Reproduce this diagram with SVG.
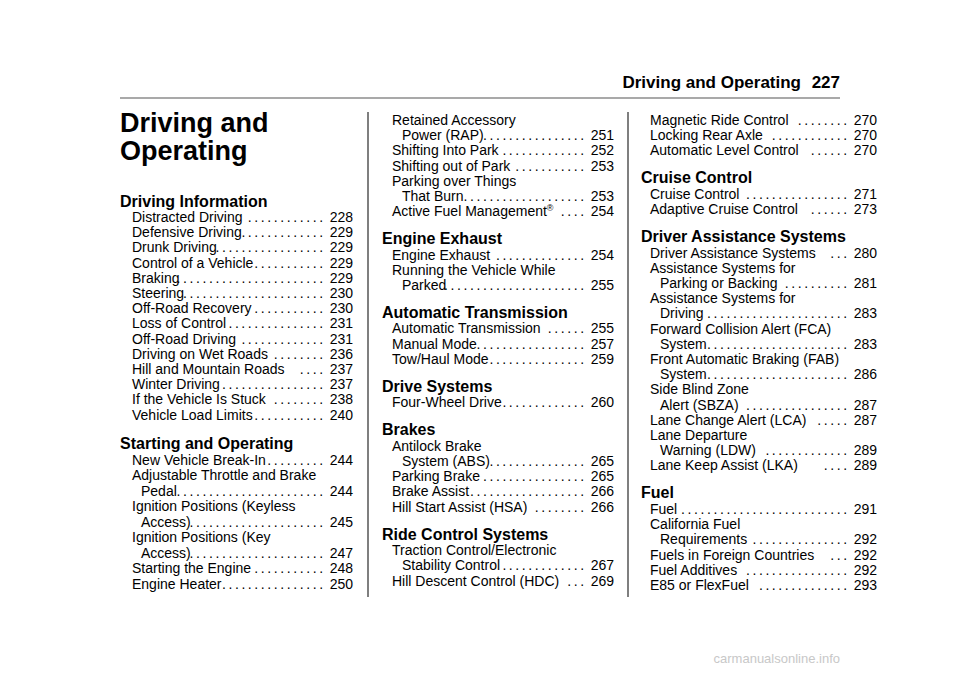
<svg xmlns="http://www.w3.org/2000/svg" width="960" height="678" viewBox="0 0 960 678">
<style>
text{font-family:"Liberation Sans",Arial,sans-serif;fill:#000}
.i{font-size:14px}
.h{font-size:16px;font-weight:bold}
.n{font-size:14px;text-anchor:end}
.d{letter-spacing:2.6px}
.t{font-size:27px;font-weight:bold}
.hd{font-size:17px;font-weight:bold}
</style>
<rect width="960" height="678" fill="#fff"/>
<g id="header">
<text class="hd" x="801" y="88" text-anchor="end">Driving and Operating</text>
<text class="hd" x="840" y="88" text-anchor="end">227</text>
<line x1="120" y1="98" x2="840" y2="98" stroke="#555" stroke-width="1.2"/>
</g>
<g id="title">
<text class="t" x="120" y="132">Driving and</text>
<text class="t" x="120" y="160">Operating</text>
</g>
<g id="separators" stroke="#555" stroke-width="1.5">
<line x1="368" y1="112" x2="368" y2="597"/>
<line x1="628" y1="112" x2="628" y2="597"/>
</g>
<g id="col1">
<text class="h" x="120" y="207">Driving Information</text>
<text class="i" x="132" y="222">Distracted Driving</text><text class="n" x="353" y="222"><tspan class="d">............</tspan> 228</text>
<text class="i" x="132" y="237.2">Defensive Driving</text><text class="n" x="353" y="237.2"><tspan class="d">.............</tspan> 229</text>
<text class="i" x="132" y="252.4">Drunk Driving</text><text class="n" x="353" y="252.4"><tspan class="d">.................</tspan> 229</text>
<text class="i" x="132" y="267.6">Control of a Vehicle</text><text class="n" x="353" y="267.6"><tspan class="d">...........</tspan> 229</text>
<text class="i" x="132" y="282.8">Braking</text><text class="n" x="353" y="282.8"><tspan class="d">.......................</tspan> 229</text>
<text class="i" x="132" y="298">Steering</text><text class="n" x="353" y="298"><tspan class="d">......................</tspan> 230</text>
<text class="i" x="132" y="313.2">Off-Road Recovery</text><text class="n" x="353" y="313.2"><tspan class="d">...........</tspan> 230</text>
<text class="i" x="132" y="328.4">Loss of Control</text><text class="n" x="353" y="328.4"><tspan class="d">...............</tspan> 231</text>
<text class="i" x="132" y="343.6">Off-Road Driving</text><text class="n" x="353" y="343.6"><tspan class="d">.............</tspan> 231</text>
<text class="i" x="132" y="358.8">Driving on Wet Roads</text><text class="n" x="353" y="358.8"><tspan class="d">........</tspan> 236</text>
<text class="i" x="132" y="374">Hill and Mountain Roads</text><text class="n" x="353" y="374"><tspan class="d">....</tspan>   237</text>
<text class="i" x="132" y="389.2">Winter Driving</text><text class="n" x="353" y="389.2"><tspan class="d">................</tspan> 237</text>
<text class="i" x="132" y="404.4">If the Vehicle Is Stuck</text><text class="n" x="353" y="404.4"><tspan class="d">........</tspan> 238</text>
<text class="i" x="132" y="419.6">Vehicle Load Limits</text><text class="n" x="353" y="419.6"><tspan class="d">...........</tspan> 240</text>
<text class="h" x="120" y="449">Starting and Operating</text>
<text class="i" x="132" y="464.5">New Vehicle Break-In</text><text class="n" x="353" y="464.5"><tspan class="d">.........</tspan> 244</text>
<text class="i" x="132" y="480">Adjustable Throttle and Brake</text>
<text class="i" x="141" y="495.5">Pedal</text><text class="n" x="353" y="495.5"><tspan class="d">.......................</tspan> 244</text>
<text class="i" x="132" y="511">Ignition Positions (Keyless</text>
<text class="i" x="141" y="526.5">Access)</text><text class="n" x="353" y="526.5"><tspan class="d">.....................</tspan> 245</text>
<text class="i" x="132" y="542">Ignition Positions (Key</text>
<text class="i" x="141" y="557.5">Access)</text><text class="n" x="353" y="557.5"><tspan class="d">.....................</tspan> 247</text>
<text class="i" x="132" y="573">Starting the Engine</text><text class="n" x="353" y="573"><tspan class="d">...........</tspan> 248</text>
<text class="i" x="132" y="588.5">Engine Heater</text><text class="n" x="353" y="588.5"><tspan class="d">................</tspan> 250</text>
</g>
<g id="col2">
<text class="i" x="392" y="125">Retained Accessory</text>
<text class="i" x="402" y="140.2">Power (RAP)</text><text class="n" x="614" y="140.2"><tspan class="d">................</tspan> 251</text>
<text class="i" x="392" y="155.4">Shifting Into Park</text><text class="n" x="614" y="155.4"><tspan class="d">.............</tspan> 252</text>
<text class="i" x="392" y="170.6">Shifting out of Park</text><text class="n" x="614" y="170.6"><tspan class="d">...........</tspan> 253</text>
<text class="i" x="392" y="185.8">Parking over Things</text>
<text class="i" x="402" y="201">That Burn</text><text class="n" x="614" y="201"><tspan class="d">...................</tspan> 253</text>
<text class="i" x="392" y="216.2">Active Fuel Management<tspan font-size="9" baseline-shift="super">®</tspan></text><text class="n" x="614" y="216.2"><tspan class="d">....</tspan> 254</text>
<text class="h" x="382" y="244">Engine Exhaust</text>
<text class="i" x="392" y="259.5">Engine Exhaust</text><text class="n" x="614" y="259.5"><tspan class="d">..............</tspan> 254</text>
<text class="i" x="392" y="274.7">Running the Vehicle While</text>
<text class="i" x="402" y="289.9">Parked</text><text class="n" x="614" y="289.9"><tspan class="d">......................</tspan> 255</text>
<text class="h" x="382" y="317.9">Automatic Transmission</text>
<text class="i" x="392" y="333.4">Automatic Transmission</text><text class="n" x="614" y="333.4"><tspan class="d">......</tspan> 255</text>
<text class="i" x="392" y="348.6">Manual Mode</text><text class="n" x="614" y="348.6"><tspan class="d">.................</tspan> 257</text>
<text class="i" x="392" y="363.8">Tow/Haul Mode</text><text class="n" x="614" y="363.8"><tspan class="d">...............</tspan> 259</text>
<text class="h" x="382" y="391.8">Drive Systems</text>
<text class="i" x="392" y="407.3">Four-Wheel Drive</text><text class="n" x="614" y="407.3"><tspan class="d">.............</tspan> 260</text>
<text class="h" x="382" y="435.3">Brakes</text>
<text class="i" x="392" y="450.8">Antilock Brake</text>
<text class="i" x="402" y="466">System (ABS)</text><text class="n" x="614" y="466"><tspan class="d">...............</tspan> 265</text>
<text class="i" x="392" y="481.2">Parking Brake</text><text class="n" x="614" y="481.2"><tspan class="d">................</tspan> 265</text>
<text class="i" x="392" y="496.4">Brake Assist</text><text class="n" x="614" y="496.4"><tspan class="d">..................</tspan> 266</text>
<text class="i" x="392" y="511.6">Hill Start Assist (HSA)</text><text class="n" x="614" y="511.6"><tspan class="d">........</tspan> 266</text>
<text class="h" x="382" y="539.6">Ride Control Systems</text>
<text class="i" x="392" y="555.1">Traction Control/Electronic</text>
<text class="i" x="402" y="570.3">Stability Control</text><text class="n" x="614" y="570.3"><tspan class="d">.............</tspan> 267</text>
<text class="i" x="392" y="585.5">Hill Descent Control (HDC)</text><text class="n" x="614" y="585.5"><tspan class="d">...</tspan> 269</text>
</g>
<g id="col3">
<text class="i" x="650" y="125">Magnetic Ride Control</text><text class="n" x="877" y="125"><tspan class="d">........</tspan> 270</text>
<text class="i" x="650" y="140.2">Locking Rear Axle</text><text class="n" x="877" y="140.2"><tspan class="d">............</tspan> 270</text>
<text class="i" x="650" y="155.4">Automatic Level Control</text><text class="n" x="877" y="155.4"><tspan class="d">......</tspan> 270</text>
<text class="h" x="641" y="183.4">Cruise Control</text>
<text class="i" x="650" y="198.9">Cruise Control</text><text class="n" x="877" y="198.9"><tspan class="d">................</tspan> 271</text>
<text class="i" x="650" y="214.1">Adaptive Cruise Control</text><text class="n" x="877" y="214.1"><tspan class="d">......</tspan> 273</text>
<text class="h" x="641" y="242.1">Driver Assistance Systems</text>
<text class="i" x="650" y="257.6">Driver Assistance Systems</text><text class="n" x="877" y="257.6"><tspan class="d">...</tspan> 280</text>
<text class="i" x="650" y="272.8">Assistance Systems for</text>
<text class="i" x="660" y="288">Parking or Backing</text><text class="n" x="877" y="288"><tspan class="d">..........</tspan> 281</text>
<text class="i" x="650" y="303.2">Assistance Systems for</text>
<text class="i" x="660" y="318.4">Driving</text><text class="n" x="877" y="318.4"><tspan class="d">......................</tspan> 283</text>
<text class="i" x="650" y="333.6">Forward Collision Alert (FCA)</text>
<text class="i" x="660" y="348.8">System</text><text class="n" x="877" y="348.8"><tspan class="d">......................</tspan> 283</text>
<text class="i" x="650" y="364">Front Automatic Braking (FAB)</text>
<text class="i" x="660" y="379.2">System</text><text class="n" x="877" y="379.2"><tspan class="d">......................</tspan> 286</text>
<text class="i" x="650" y="394.4">Side Blind Zone</text>
<text class="i" x="660" y="409.6">Alert (SBZA)</text><text class="n" x="877" y="409.6"><tspan class="d">................</tspan> 287</text>
<text class="i" x="650" y="424.8">Lane Change Alert (LCA)</text><text class="n" x="877" y="424.8"><tspan class="d">.....</tspan> 287</text>
<text class="i" x="650" y="440">Lane Departure</text>
<text class="i" x="660" y="455.2">Warning (LDW)</text><text class="n" x="877" y="455.2"><tspan class="d">.............</tspan> 289</text>
<text class="i" x="650" y="470.4">Lane Keep Assist (LKA)</text><text class="n" x="877" y="470.4"><tspan class="d">....</tspan>   289</text>
<text class="h" x="641" y="498.4">Fuel</text>
<text class="i" x="650" y="513.9">Fuel</text><text class="n" x="877" y="513.9"><tspan class="d">..........................</tspan> 291</text>
<text class="i" x="650" y="529.1">California Fuel</text>
<text class="i" x="660" y="544.3">Requirements</text><text class="n" x="877" y="544.3"><tspan class="d">...............</tspan> 292</text>
<text class="i" x="650" y="559.5">Fuels in Foreign Countries</text><text class="n" x="877" y="559.5"><tspan class="d">...</tspan> 292</text>
<text class="i" x="650" y="574.7">Fuel Additives</text><text class="n" x="877" y="574.7"><tspan class="d">................</tspan> 292</text>
<text class="i" x="650" y="589.9">E85 or FlexFuel</text><text class="n" x="877" y="589.9"><tspan class="d">..............</tspan> 293</text>
</g>
<g id="footer"><text x="840" y="663" text-anchor="end" font-size="13" style="fill:#c8c8c8">carmanualsonline.info</text></g>
</svg>
